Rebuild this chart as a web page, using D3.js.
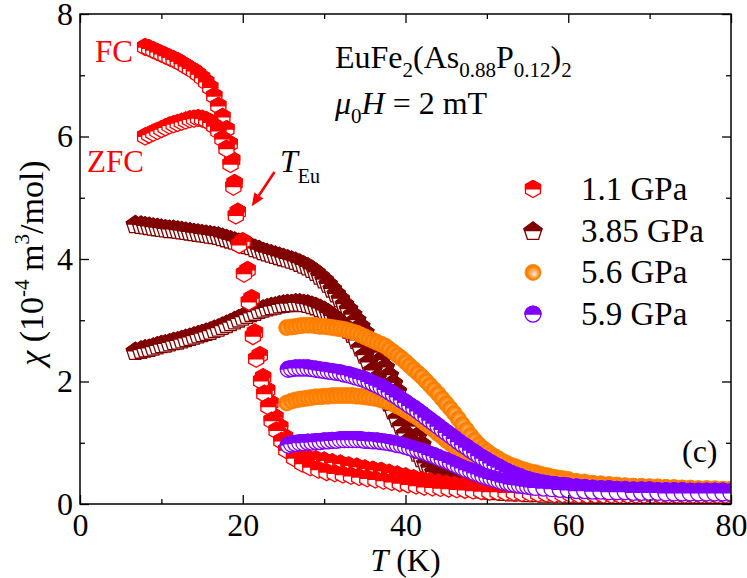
<!DOCTYPE html>
<meta charset="utf-8">
<script src="https://cdn.jsdelivr.net/npm/d3@7"></script>
<style>
body { margin: 0; background: #fff; }
text { font-family: "Liberation Serif", "Times New Roman", serif; }
</style>
<body>
<script>
// ---- data: [T (K), chi (1e-4 m^3/mol)] ----
var fc_11 = [[8.0,7.46],[8.5,7.44],[9.0,7.41],[9.5,7.38],[10.0,7.35],[10.5,7.32],[11.0,7.29],[11.5,7.26],[12.0,7.23],[12.5,7.19],[13.0,7.15],[13.5,7.11],[14.0,7.07],[14.5,7.02],[15.0,6.96],[15.5,6.89],[16.0,6.80],[16.5,6.66],[17.0,6.50],[17.5,6.32],[18.0,6.12],[18.4,5.88],[18.7,5.62],[19.0,5.24],[19.4,4.77],[20.0,4.29],[20.6,3.82],[21.1,3.36],[21.5,2.80],[22.1,2.43],[22.5,2.07],[23.0,1.86],[23.4,1.65],[24.0,1.42],[24.6,1.26],[25.2,1.09],[26.1,0.93],[27.0,0.80],[28,0.75],[29,0.73],[30,0.71],[31,0.68],[32,0.66],[33,0.63],[34,0.61],[35,0.58],[36,0.56],[37,0.54],[38,0.51],[39,0.48],[40,0.45],[41,0.42],[42,0.39],[43,0.37],[44,0.35],[45,0.33],[46,0.31],[47,0.29],[48,0.28],[49,0.27],[50,0.26],[51,0.25],[52,0.24],[53,0.23],[54,0.22],[55,0.21],[56,0.21],[57,0.20],[58,0.20],[59,0.19],[60,0.19],[61,0.19],[62,0.18],[63,0.18],[64,0.18],[65,0.17],[66,0.17],[67,0.17],[68,0.17],[69,0.17],[70,0.17],[71,0.16],[72,0.16],[73,0.16],[74,0.16],[75,0.16],[76,0.16],[77,0.16],[78,0.16],[79,0.16],[80,0.16]];
var zfc_11 = [[8.0,6.00],[8.5,6.03],[9.0,6.06],[9.5,6.09],[10.0,6.12],[10.5,6.15],[11.0,6.18],[11.5,6.20],[12.0,6.22],[12.5,6.24],[13.0,6.26],[13.5,6.28],[14.0,6.29],[14.5,6.30],[15.0,6.29],[15.5,6.27],[16.0,6.23],[16.5,6.17],[17.0,6.09],[17.5,5.96],[18.0,5.80],[18.5,5.55],[18.85,5.18],[19.15,4.71],[19.55,4.23],[20.15,3.76],[20.75,3.30],[21.25,2.74],[21.65,2.37],[22.25,2.01],[22.65,1.80],[23.15,1.59],[23.55,1.36],[24.15,1.20],[24.75,1.03],[25.35,0.88],[26.3,0.75],[27.3,0.66],[28.3,0.60],[29.3,0.56],[30.3,0.52],[31.3,0.50],[32.3,0.48],[33.3,0.46],[34.3,0.44],[35.3,0.42],[36.3,0.40],[37.3,0.38],[38.3,0.36],[39.3,0.34],[40.3,0.32],[41.3,0.30],[42.3,0.28],[43.3,0.27],[44.3,0.26],[45.3,0.25],[46.3,0.24],[47.3,0.23],[48.3,0.22],[49.3,0.21],[50.3,0.20],[51.3,0.20],[52.3,0.19],[53.3,0.19],[54.3,0.18],[55.3,0.18],[56.3,0.17],[57.3,0.17],[58.3,0.16],[59.3,0.16],[60.3,0.16],[61.3,0.15],[62.3,0.15],[63.3,0.15],[64.3,0.15],[65.3,0.15],[66.3,0.15],[67.3,0.15],[68.3,0.15],[69.3,0.15],[70.3,0.15],[71.3,0.15],[72.3,0.15],[73.3,0.15],[74.3,0.15],[75.3,0.15],[76.3,0.15],[77.3,0.15],[78.3,0.15],[79.3,0.15]];

var fc_385 = [[6.8,4.57],[7.5,4.56],[8,4.55],[8.5,4.54],[9,4.53],[9.5,4.52],[10,4.51],[10.5,4.50],[11,4.49],[11.5,4.49],[12,4.48],[12.5,4.47],[13,4.46],[13.5,4.45],[14,4.44],[14.5,4.43],[15,4.42],[15.5,4.41],[16,4.40],[16.5,4.39],[17,4.38],[17.5,4.36],[18,4.34],[18.5,4.32],[19,4.30],[19.5,4.28],[20,4.26],[20.5,4.23],[21,4.21],[21.5,4.18],[22,4.16],[22.5,4.13],[23,4.11],[23.5,4.09],[24,4.07],[24.5,4.05],[25,4.03],[25.5,4.01],[26,3.99],[26.5,3.97],[27,3.94],[27.5,3.91],[28,3.88],[28.5,3.84],[29,3.79],[29.5,3.73],[30,3.67],[30.5,3.60],[31,3.52],[31.5,3.44],[32,3.36],[32.5,3.27],[33,3.19],[33.5,3.10],[34,3.01],[34.5,2.91],[35,2.81],[35.5,2.70],[36,2.59],[36.5,2.48],[37,2.36],[37.5,2.24],[38,2.11],[38.5,1.98],[39,1.85],[39.5,1.71],[40,1.57],[40.5,1.42],[41,1.27],[41.5,1.12],[42,0.98],[42.5,0.85],[43,0.73],[43.5,0.63],[44,0.55],[44.5,0.48],[45,0.43],[45.5,0.39],[46,0.36],[47,0.32],[48,0.29],[49,0.27],[50,0.26],[51,0.25],[52,0.24],[53,0.23],[54,0.22],[55,0.22],[56,0.21],[57,0.21],[58,0.20],[59,0.20],[60,0.20],[61,0.19],[62,0.19],[63,0.19],[64,0.19],[65,0.18],[66,0.18],[67,0.18],[68,0.18],[69,0.18],[70,0.18],[71,0.17],[72,0.17],[73,0.17],[74,0.17],[75,0.17],[76,0.17],[77,0.17],[78,0.17],[79,0.17],[80,0.17]];
var zfc_385 = [[6.8,2.50],[7.5,2.52],[8,2.54],[8.5,2.55],[9,2.57],[9.5,2.59],[10,2.61],[10.5,2.62],[11,2.64],[11.5,2.66],[12,2.67],[12.5,2.69],[13,2.71],[13.5,2.73],[14,2.75],[14.5,2.77],[15,2.79],[15.5,2.81],[16,2.83],[16.5,2.86],[17,2.88],[17.5,2.91],[18,2.94],[18.5,2.97],[19,3.00],[19.5,3.03],[20,3.06],[20.5,3.09],[21,3.12],[21.5,3.14],[22,3.17],[22.5,3.19],[23,3.21],[23.5,3.23],[24,3.24],[24.5,3.26],[25,3.27],[25.5,3.28],[26,3.28],[26.5,3.29],[27,3.29],[27.5,3.28],[28,3.27],[28.5,3.25],[29,3.23],[29.5,3.20],[30,3.17],[30.5,3.13],[31,3.08],[31.5,3.03],[32,2.97],[32.5,2.91],[33,2.85],[33.5,2.78],[34,2.68],[34.5,2.56],[35,2.44],[35.5,2.32],[36,2.19],[36.5,2.06],[37,1.93],[37.5,1.79],[38,1.66],[38.5,1.53],[39,1.40],[39.5,1.28],[40,1.16],[40.5,1.05],[41,0.94],[41.5,0.84],[42,0.75],[42.5,0.67],[43,0.60],[43.5,0.53],[44,0.47],[44.5,0.43],[45,0.39],[45.5,0.36],[46,0.33],[47,0.29],[48,0.26],[49,0.24],[50,0.22],[51,0.21],[52,0.20],[53,0.19],[54,0.19],[55,0.18],[56,0.18],[57,0.17],[58,0.17],[59,0.17],[60,0.16],[61,0.16],[62,0.16],[63,0.16],[64,0.16],[65,0.15],[66,0.15],[67,0.15],[68,0.15],[69,0.15],[70,0.15],[71,0.15],[72,0.15],[73,0.15],[74,0.15],[75,0.15],[76,0.15],[77,0.15],[78,0.15],[79,0.15],[80,0.15]];

var fc_56 = [[25.4,2.88],[26,2.89],[26.5,2.90],[27,2.91],[27.5,2.92],[28,2.92],[28.5,2.92],[29,2.91],[29.5,2.90],[30,2.90],[30.5,2.89],[31,2.88],[31.5,2.87],[32,2.86],[32.5,2.85],[33,2.83],[33.5,2.81],[34,2.79],[34.5,2.76],[35,2.73],[35.5,2.70],[36,2.67],[36.5,2.64],[37,2.61],[37.5,2.58],[38,2.53],[38.5,2.48],[39,2.43],[39.5,2.38],[40,2.32],[40.5,2.26],[41,2.20],[41.5,2.14],[42,2.08],[42.5,2.01],[43,1.94],[43.5,1.87],[44,1.80],[44.5,1.72],[45,1.64],[45.5,1.56],[46,1.48],[46.5,1.39],[47,1.30],[47.5,1.21],[48,1.12],[48.5,1.04],[49,0.97],[49.5,0.91],[50,0.86],[50.5,0.81],[51,0.77],[51.5,0.73],[52,0.69],[52.5,0.66],[53,0.63],[53.5,0.61],[54,0.58],[54.5,0.56],[55,0.54],[55.5,0.52],[56,0.51],[56.5,0.49],[57,0.47],[57.5,0.46],[58,0.44],[58.5,0.43],[59,0.42],[59.5,0.41],[60,0.40],[61,0.37],[62,0.36],[63,0.34],[64,0.33],[65,0.32],[66,0.31],[67,0.30],[68,0.29],[69,0.29],[70,0.28],[71,0.28],[72,0.27],[73,0.27],[74,0.26],[75,0.26],[76,0.25],[77,0.25],[78,0.25],[79,0.24],[80,0.24]];
var zfc_56 = [[25.4,1.65],[26,1.68],[26.5,1.70],[27,1.71],[27.5,1.72],[28,1.73],[28.5,1.74],[29,1.75],[29.5,1.75],[30,1.76],[30.5,1.76],[31,1.77],[31.5,1.77],[32,1.77],[32.5,1.77],[33,1.77],[33.5,1.77],[34,1.76],[34.5,1.76],[35,1.75],[35.5,1.74],[36,1.73],[36.5,1.72],[37,1.70],[37.5,1.68],[38,1.66],[38.5,1.63],[39,1.60],[39.5,1.57],[40,1.53],[40.5,1.49],[41,1.45],[41.5,1.41],[42,1.36],[42.5,1.31],[43,1.26],[43.5,1.21],[44,1.15],[44.5,1.10],[45,1.04],[45.5,0.99],[46,0.94],[46.5,0.89],[47,0.84],[47.5,0.80],[48,0.76],[48.5,0.72],[49,0.69],[49.5,0.66],[50,0.63],[51,0.58],[52,0.54],[53,0.50],[54,0.47],[55,0.45],[56,0.43],[57,0.41],[58,0.39],[59,0.37],[60,0.36],[61,0.35],[62,0.34],[63,0.33],[64,0.32],[65,0.31],[66,0.30],[67,0.29],[68,0.29],[69,0.28],[70,0.28],[71,0.27],[72,0.27],[73,0.26],[74,0.26],[75,0.25],[76,0.25],[77,0.25],[78,0.24],[79,0.24],[80,0.24]];

var fc_59 = [[25.6,2.20],[26,2.21],[26.5,2.22],[27,2.22],[27.5,2.22],[28,2.22],[28.5,2.21],[29,2.20],[29.5,2.19],[30,2.18],[30.5,2.17],[31,2.16],[31.5,2.15],[32,2.14],[32.5,2.12],[33,2.11],[33.5,2.09],[34,2.07],[34.5,2.05],[35,2.03],[35.5,2.00],[36,1.97],[36.5,1.94],[37,1.91],[37.5,1.87],[38,1.83],[38.5,1.79],[39,1.75],[39.5,1.70],[40,1.66],[40.5,1.61],[41,1.57],[41.5,1.52],[42,1.47],[42.5,1.42],[43,1.37],[43.5,1.32],[44,1.27],[44.5,1.22],[45,1.17],[45.5,1.12],[46,1.07],[46.5,1.02],[47,0.97],[47.5,0.93],[48,0.88],[48.5,0.84],[49,0.79],[49.5,0.75],[50,0.71],[50.5,0.67],[51,0.63],[51.5,0.60],[52,0.56],[52.5,0.53],[53,0.50],[53.5,0.47],[54,0.45],[54.5,0.42],[55,0.40],[55.5,0.38],[56,0.37],[56.5,0.35],[57,0.34],[57.5,0.33],[58,0.32],[58.5,0.31],[59,0.30],[59.5,0.30],[60,0.29],[61,0.28],[62,0.27],[63,0.26],[64,0.25],[65,0.25],[66,0.24],[67,0.24],[68,0.23],[69,0.23],[70,0.23],[71,0.22],[72,0.22],[73,0.22],[74,0.22],[75,0.21],[76,0.21],[77,0.21],[78,0.21],[79,0.21],[80,0.20]];
var zfc_59 = [[25.6,0.96],[26,0.98],[26.5,0.99],[27,1.00],[27.5,1.00],[28,1.01],[28.5,1.01],[29,1.02],[29.5,1.02],[30,1.03],[30.5,1.03],[31,1.04],[31.5,1.04],[32,1.05],[32.5,1.05],[33,1.05],[33.5,1.05],[34,1.05],[34.5,1.05],[35,1.04],[35.5,1.04],[36,1.03],[36.5,1.03],[37,1.02],[37.5,1.01],[38,1.00],[38.5,0.99],[39,0.97],[39.5,0.96],[40,0.94],[40.5,0.92],[41,0.90],[41.5,0.88],[42,0.86],[42.5,0.84],[43,0.81],[43.5,0.79],[44,0.76],[44.5,0.73],[45,0.71],[45.5,0.68],[46,0.65],[46.5,0.62],[47,0.59],[47.5,0.56],[48,0.54],[48.5,0.51],[49,0.49],[49.5,0.46],[50,0.44],[50.5,0.42],[51,0.40],[51.5,0.38],[52,0.36],[52.5,0.35],[53,0.33],[53.5,0.32],[54,0.31],[54.5,0.30],[55,0.29],[55.5,0.28],[56,0.27],[57,0.26],[58,0.25],[59,0.24],[60,0.23],[61,0.22],[62,0.22],[63,0.21],[64,0.21],[65,0.20],[66,0.20],[67,0.20],[68,0.19],[69,0.19],[70,0.19],[71,0.19],[72,0.18],[73,0.18],[74,0.18],[75,0.18],[76,0.18],[77,0.18],[78,0.18],[79,0.18],[80,0.18]];

var pressures = ["1.1 GPa", "3.85 GPa", "5.6 GPa", "5.9 GPa"];
var colors = ["#ff0000", "#800000", "#ff8000", "#8000ff"];
var xTicks = [0, 20, 40, 60, 80], xMinor = [10, 30, 50, 70];
var yTicks = [0, 2, 4, 6, 8], yMinor = [1, 3, 5, 7];

var w = 747, h = 578;
var x = d3.scaleLinear().domain([0, 80]).range([80, 731]);
var y = d3.scaleLinear().domain([0, 8]).range([504, 14]);

var svg = d3.select("body").append("svg").attr("width", w).attr("height", h);
var defs = svg.append("defs");

defs.append("clipPath").attr("id", "plotclip")
    .append("rect").attr("x", x(0)).attr("y", y(8))
    .attr("width", x(80) - x(0)).attr("height", y(0) - y(8));
defs.append("clipPath").attr("id", "tophalf").attr("clipPathUnits", "userSpaceOnUse")
    .append("rect").attr("x", -12).attr("y", -12).attr("width", 24).attr("height", 12.6);

var grad = defs.append("radialGradient").attr("id", "sphere")
    .attr("cx", 0.5).attr("cy", 0.5).attr("r", 0.5).attr("fx", 0.62).attr("fy", 0.64);
grad.append("stop").attr("offset", 0).attr("stop-color", "#fff4ea");
grad.append("stop").attr("offset", 0.35).attr("stop-color", "#ffbb77");
grad.append("stop").attr("offset", 0.8).attr("stop-color", "#ff8000");
grad.append("stop").attr("offset", 1).attr("stop-color", "#f57a00");

// marker outlines
var hexPath = "M0,-8.5L7.5,-4.25L7.5,4.25L0,8.5L-7.5,4.25L-7.5,-4.25Z";
var pentPath = d3.line()([0, 1, 2, 3, 4].map(function (k) {
    var a = -Math.PI / 2 + k * 2 * Math.PI / 5;
    return [9.5 * Math.cos(a), 9.5 * Math.sin(a) + 0.9];
})) + "Z";
var circPath = d3.symbol(d3.symbolCircle, Math.PI * 64)();

var series = [
    {name: pressures[1], color: colors[1], shape: pentPath, sphere: false, curves: [fc_385, zfc_385]},
    {name: pressures[0], color: colors[0], shape: hexPath, sphere: false, curves: [fc_11, zfc_11]},
    {name: pressures[2], color: colors[2], shape: circPath, sphere: true, curves: [fc_56, zfc_56]},
    {name: pressures[3], color: colors[3], shape: circPath, sphere: false, curves: [fc_59, zfc_59]}
];

function drawMarker(g, s) {
    if (s.sphere) {
        g.append("path").attr("d", s.shape).attr("fill", "url(#sphere)")
            .attr("stroke", s.color).attr("stroke-width", 0.8);
        return;
    }
    g.append("path").attr("d", s.shape).attr("fill", "#fff")
        .attr("stroke", s.color).attr("stroke-width", 1.3);
    g.append("path").attr("d", s.shape).attr("fill", s.color)
        .attr("stroke", s.color).attr("stroke-width", 1.3)
        .attr("clip-path", "url(#tophalf)");
}

var plot = svg.append("g").attr("clip-path", "url(#plotclip)");
series.forEach(function (s) {
    s.curves.forEach(function (c) {
        plot.append("g").selectAll("g")
            .data(c)
            .enter()
            .append("g")
            .attr("transform", function (d) { return "translate(" + x(d[0]) + "," + y(d[1]) + ")"; })
            .each(function () { drawMarker(d3.select(this), s); });
    });
});

// axes: ticks pointing inwards on all four sides
function styleAxis(g) {
    g.select(".domain").remove();
    g.selectAll("line").attr("stroke", "#000").attr("stroke-width", 1.3);
    g.selectAll("text").attr("font-size", 32).attr("fill", "#000")
        .attr("font-family", "'Liberation Serif', serif");
}
svg.append("g").attr("transform", "translate(0," + y(0) + ")")
    .call(d3.axisBottom(x).tickValues(xTicks).tickSize(-9).tickPadding(9).tickFormat(d3.format("d")))
    .call(styleAxis);
svg.append("g").attr("transform", "translate(0," + y(0) + ")")
    .call(d3.axisBottom(x).tickValues(xMinor).tickSize(-5).tickFormat(""))
    .call(styleAxis);
svg.append("g").attr("transform", "translate(0," + y(8) + ")")
    .call(d3.axisTop(x).tickValues(xTicks).tickSize(-9).tickFormat(""))
    .call(styleAxis);
svg.append("g").attr("transform", "translate(0," + y(8) + ")")
    .call(d3.axisTop(x).tickValues(xMinor).tickSize(-5).tickFormat(""))
    .call(styleAxis);
svg.append("g").attr("transform", "translate(" + x(0) + ",0)")
    .call(d3.axisLeft(y).tickValues(yTicks).tickSize(-9).tickPadding(7).tickFormat(d3.format("d")))
    .call(styleAxis);
svg.append("g").attr("transform", "translate(" + x(0) + ",0)")
    .call(d3.axisLeft(y).tickValues(yMinor).tickSize(-5).tickFormat(""))
    .call(styleAxis);
svg.append("g").attr("transform", "translate(" + x(80) + ",0)")
    .call(d3.axisRight(y).tickValues(yTicks).tickSize(-9).tickFormat(""))
    .call(styleAxis);
svg.append("g").attr("transform", "translate(" + x(80) + ",0)")
    .call(d3.axisRight(y).tickValues(yMinor).tickSize(-5).tickFormat(""))
    .call(styleAxis);

svg.append("rect")
    .attr("x", x(0)).attr("y", y(8))
    .attr("width", x(80) - x(0)).attr("height", y(0) - y(8))
    .attr("fill", "none").attr("stroke", "#000").attr("stroke-width", 1.5);

// axis titles
var xl = svg.append("text").attr("x", x(40)).attr("y", 571)
    .attr("text-anchor", "middle").attr("font-size", 32);
xl.append("tspan").attr("font-style", "italic").text("T");
xl.append("tspan").text(" (K)");

var yl = svg.append("text").attr("transform", "translate(43,263) rotate(-90)")
    .attr("text-anchor", "middle").attr("font-size", 34);
yl.append("tspan").attr("font-style", "italic").text("χ");
yl.append("tspan").text(" (10");
yl.append("tspan").attr("font-size", 21).attr("dy", -14).text("-4");
yl.append("tspan").attr("dy", 14).text(" m");
yl.append("tspan").attr("font-size", 21).attr("dy", -14).text("3");
yl.append("tspan").attr("dy", 14).text("/mol)");

// sample and field
var t1 = svg.append("text").attr("x", 335).attr("y", 68).attr("font-size", 32);
t1.append("tspan").text("EuFe");
t1.append("tspan").attr("font-size", 21).attr("dy", 9).text("2");
t1.append("tspan").attr("dy", -9).text("(As");
t1.append("tspan").attr("font-size", 21).attr("dy", 9).text("0.88");
t1.append("tspan").attr("dy", -9).text("P");
t1.append("tspan").attr("font-size", 21).attr("dy", 9).text("0.12");
t1.append("tspan").attr("dy", -9).text(")");
t1.append("tspan").attr("font-size", 21).attr("dy", 9).text("2");

var t2 = svg.append("text").attr("x", 335).attr("y", 114).attr("font-size", 32);
t2.append("tspan").attr("font-style", "italic").text("μ");
t2.append("tspan").attr("font-size", 21).attr("dy", 9).text("0");
t2.append("tspan").attr("dy", -9).attr("font-style", "italic").text("H");
t2.append("tspan").text(" = 2 mT");

// FC / ZFC and T_Eu annotations
svg.append("text").attr("x", 95).attr("y", 62).attr("font-size", 31).attr("fill", colors[0]).text("FC");
svg.append("text").attr("x", 87).attr("y", 172).attr("font-size", 31).attr("fill", colors[0]).text("ZFC");
var te = svg.append("text").attr("x", 280).attr("y", 172).attr("font-size", 32);
te.append("tspan").attr("font-style", "italic").text("T");
te.append("tspan").attr("font-size", 20).attr("dy", 11).text("Eu");

var a0 = [x(23.9), y(5.42)], a1 = [x(21.1), y(4.86)];
var ang = Math.atan2(a1[1] - a0[1], a1[0] - a0[0]);
var hl = 13, hw = 5.5;
var ab = [a1[0] - hl * Math.cos(ang), a1[1] - hl * Math.sin(ang)];
svg.append("line").attr("x1", a0[0]).attr("y1", a0[1]).attr("x2", ab[0]).attr("y2", ab[1])
    .attr("stroke", colors[0]).attr("stroke-width", 2.6);
svg.append("path")
    .attr("d", "M" + a1 + "L" + [ab[0] + hw * Math.sin(ang), ab[1] - hw * Math.cos(ang)] +
        "L" + [ab[0] - hw * Math.sin(ang), ab[1] + hw * Math.cos(ang)] + "Z")
    .attr("fill", colors[0]);

// legend
var legendOrder = [series[1], series[0], series[2], series[3]];
var legend = svg.append("g");
legendOrder.forEach(function (s, i) {
    var ly = 189 + i * 41.7;
    drawMarker(legend.append("g").attr("transform", "translate(533," + ly + ")"), s);
    legend.append("text").attr("x", 581).attr("y", ly + 11).attr("font-size", 33).text(s.name);
});

svg.append("text").attr("x", 682).attr("y", 462).attr("font-size", 32).text("(c)");
</script>
</body>
